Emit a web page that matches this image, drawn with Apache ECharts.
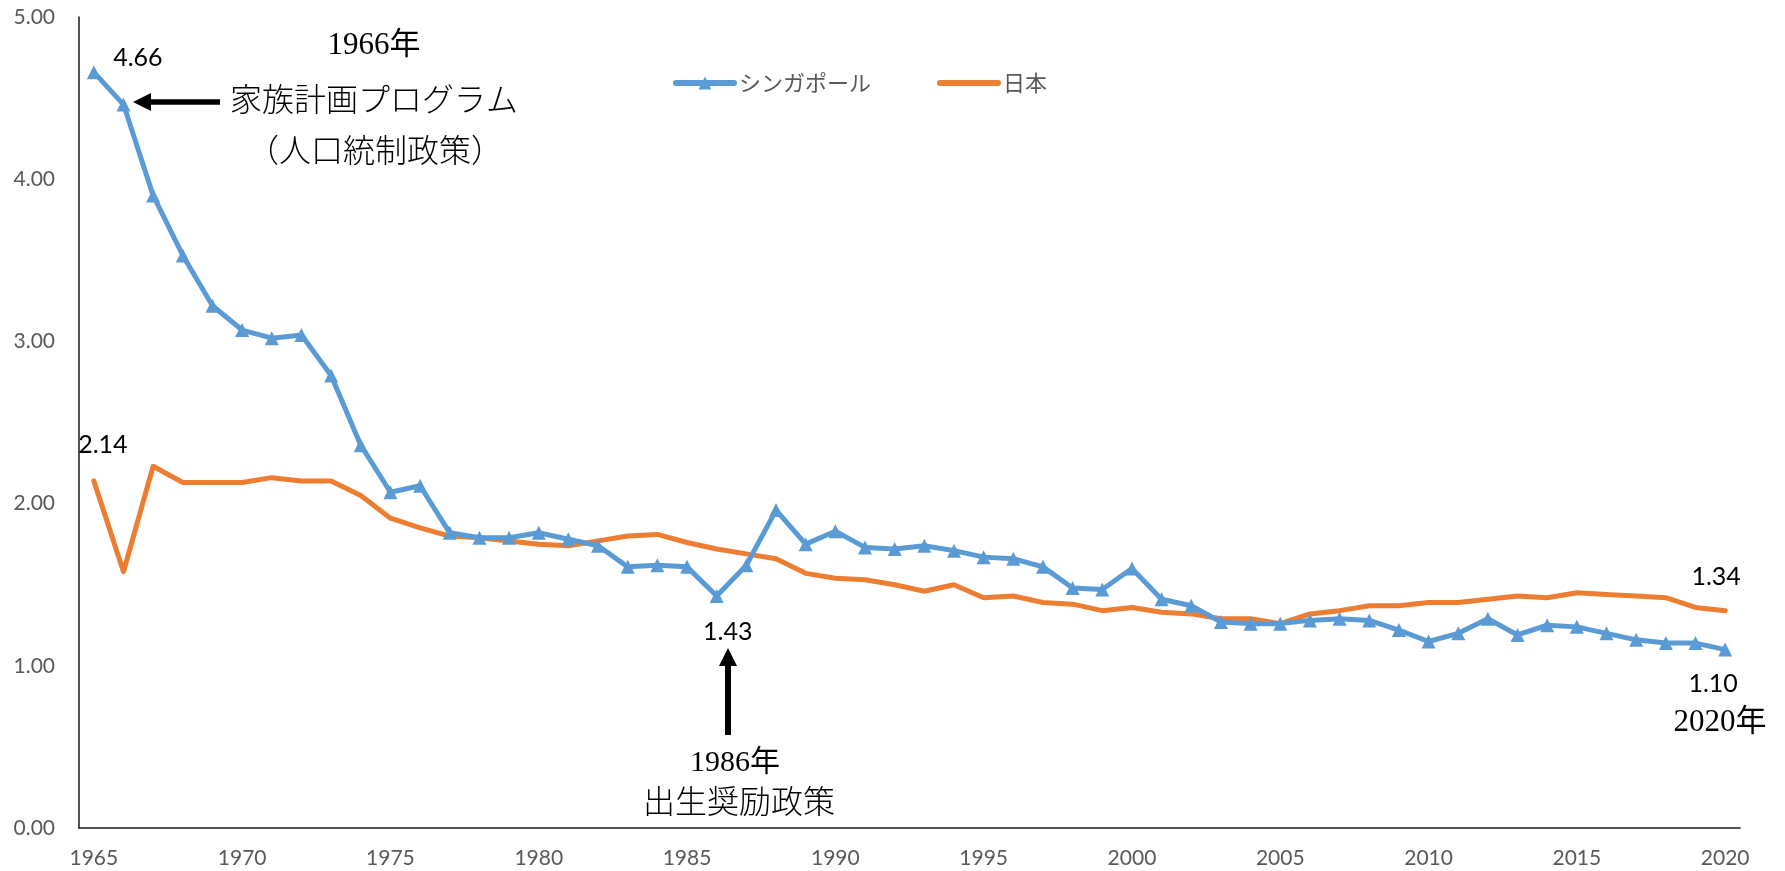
<!DOCTYPE html>
<html>
<head>
<meta charset="utf-8">
<title>合計特殊出生率 シンガポール・日本</title>
<script src="https://cdn.jsdelivr.net/npm/echarts@6/dist/echarts.min.js"></script>
<style>
  html, body { margin: 0; padding: 0; background: #fff; }
  #chart { width: 1785px; height: 871px; }
</style>
</head>
<body>
<div id="chart"></div>
<script>
// 年
const years = [];
for (let y = 1965; y <= 2020; y++) years.push(String(y));

// シンガポール
const singapore = [
  4.66, 4.46, 3.90, 3.53, 3.22, 3.07, 3.02, 3.04, 2.79, 2.36,
  2.07, 2.11, 1.82, 1.79, 1.79, 1.82, 1.78, 1.74, 1.61, 1.62,
  1.61, 1.43, 1.62, 1.96, 1.75, 1.83, 1.73, 1.72, 1.74, 1.71,
  1.67, 1.66, 1.61, 1.48, 1.47, 1.60, 1.41, 1.37, 1.27, 1.26,
  1.26, 1.28, 1.29, 1.28, 1.22, 1.15, 1.20, 1.29, 1.19, 1.25,
  1.24, 1.20, 1.16, 1.14, 1.14, 1.10
];

// 日本
const japan = [
  2.14, 1.58, 2.23, 2.13, 2.13, 2.13, 2.16, 2.14, 2.14, 2.05,
  1.91, 1.85, 1.80, 1.79, 1.77, 1.75, 1.74, 1.77, 1.80, 1.81,
  1.76, 1.72, 1.69, 1.66, 1.57, 1.54, 1.53, 1.50, 1.46, 1.50,
  1.42, 1.43, 1.39, 1.38, 1.34, 1.36, 1.33, 1.32, 1.29, 1.29,
  1.26, 1.32, 1.34, 1.37, 1.37, 1.39, 1.39, 1.41, 1.43, 1.42,
  1.45, 1.44, 1.43, 1.42, 1.36, 1.34
];

const yTicks = [0, 1, 2, 3, 4, 5];

const BLUE = '#5b9bd5';
const ORANGE = '#ed7d31';
const NUM_FONT = 'Lato, "Noto Sans", sans-serif';
const JP_SANS = '"Noto Sans CJK JP", sans-serif';
const JP_SERIF = '"Liberation Serif", "DejaVu Serif", "Noto Sans CJK JP", serif';

const valueLabel = (offset) => ({
  show: true,
  position: 'inside',
  offset: offset,
  formatter: (p) => Number(p.value).toFixed(2),
  color: '#000',
  fontSize: 25,
  fontFamily: NUM_FONT
});

// シンガポールの値ラベル（1965, 1986, 2020）
const sgLabelOffsets = { '1965': [44, -14], '1986': [11, 36], '2020': [-12, 34] };
const sgData = singapore.map((v, i) => {
  const off = sgLabelOffsets[years[i]];
  return off ? { value: v, label: valueLabel(off) } : v;
});

// 日本の値ラベル（markPoint で表示）
const jpLabelOffsets = { '1965': [9, -36], '2020': [-9, -34] };
const jpMarks = Object.keys(jpLabelOffsets).map((y) => ({
  coord: [y, japan[years.indexOf(y)]],
  value: japan[years.indexOf(y)],
  label: valueLabel(jpLabelOffsets[y])
}));

const chart = echarts.init(document.getElementById('chart'));

chart.setOption({
  animation: false,
  grid: {
    left: 79,
    right: 45,
    top: 17,
    bottom: 43,
    containLabel: false
  },
  legend: {
    left: 668,
    top: 67,
    itemWidth: 58,
    itemHeight: 16,
    itemGap: 66,
    lineStyle: { width: 6, cap: 'round' },
    textStyle: {
      color: '#595959',
      fontSize: 22,
      fontFamily: JP_SANS
    },
    data: [
      { name: 'シンガポール' },
      { name: '日本', itemStyle: { opacity: 0 } }
    ]
  },
  xAxis: {
    type: 'category',
    data: years,
    boundaryGap: true,
    axisLine: { lineStyle: { color: '#1a1a1a', width: 1.5 } },
    axisTick: { show: false },
    axisLabel: {
      interval: 4,
      color: '#595959',
      fontSize: 21,
      fontFamily: NUM_FONT,
      margin: 20
    }
  },
  yAxis: {
    type: 'value',
    min: yTicks[0],
    max: yTicks[yTicks.length - 1],
    interval: 1,
    axisLine: { show: true, lineStyle: { color: '#1a1a1a', width: 1.5 } },
    axisTick: { show: false },
    splitLine: { show: false },
    axisLabel: {
      color: '#595959',
      fontSize: 21,
      fontFamily: NUM_FONT,
      margin: 24,
      formatter: (v) => v.toFixed(2)
    }
  },
  series: [
    {
      name: 'シンガポール',
      type: 'line',
      symbol: 'triangle',
      symbolSize: 14,
      showSymbol: true,
      data: sgData,
      lineStyle: { color: BLUE, width: 5, cap: 'round', join: 'round' },
      itemStyle: { color: BLUE },
      z: 3
    },
    {
      name: '日本',
      type: 'line',
      symbol: 'none',
      data: japan,
      lineStyle: { color: ORANGE, width: 5, cap: 'round', join: 'round' },
      itemStyle: { color: ORANGE },
      markPoint: {
        symbol: 'circle',
        symbolSize: 2,
        itemStyle: { color: ORANGE },
        data: jpMarks
      },
      z: 2
    }
  ],
  graphic: [
    // 1966年 家族計画プログラム
    {
      type: 'text', x: 374, y: 46,
      style: { text: '1966年', align: 'center', verticalAlign: 'middle', fontSize: 31, fontFamily: JP_SERIF, fill: '#000' }
    },
    {
      type: 'text', x: 374, y: 99,
      style: { text: '家族計画プログラム', align: 'center', verticalAlign: 'middle', fontSize: 32, fontFamily: JP_SANS, fontWeight: 300, fill: '#000' }
    },
    {
      type: 'text', x: 375, y: 150,
      style: { text: '（人口統制政策）', align: 'center', verticalAlign: 'middle', fontSize: 32, fontFamily: JP_SANS, fontWeight: 300, fill: '#000' }
    },
    {
      type: 'line',
      shape: { x1: 148, y1: 102, x2: 220, y2: 102 },
      style: { stroke: '#000', lineWidth: 5.5 }
    },
    {
      type: 'polygon',
      shape: { points: [[133, 102], [151, 93], [151, 111]] },
      style: { fill: '#000' }
    },
    // 1986年 出生奨励政策
    {
      type: 'line',
      shape: { x1: 728, y1: 662, x2: 728, y2: 735 },
      style: { stroke: '#000', lineWidth: 6 }
    },
    {
      type: 'polygon',
      shape: { points: [[728, 648], [719, 666], [737, 666]] },
      style: { fill: '#000' }
    },
    {
      type: 'text', x: 735, y: 763,
      style: { text: '1986年', align: 'center', verticalAlign: 'middle', fontSize: 30, fontFamily: JP_SERIF, fill: '#000' }
    },
    {
      type: 'text', x: 739, y: 801,
      style: { text: '出生奨励政策', align: 'center', verticalAlign: 'middle', fontSize: 32, fontFamily: JP_SANS, fontWeight: 300, fill: '#000' }
    },
    // 2020年
    {
      type: 'text', x: 1720, y: 723,
      style: { text: '2020年', align: 'center', verticalAlign: 'middle', fontSize: 31, fontFamily: JP_SERIF, fill: '#000' }
    }
  ]
});
</script>
</body>
</html>
